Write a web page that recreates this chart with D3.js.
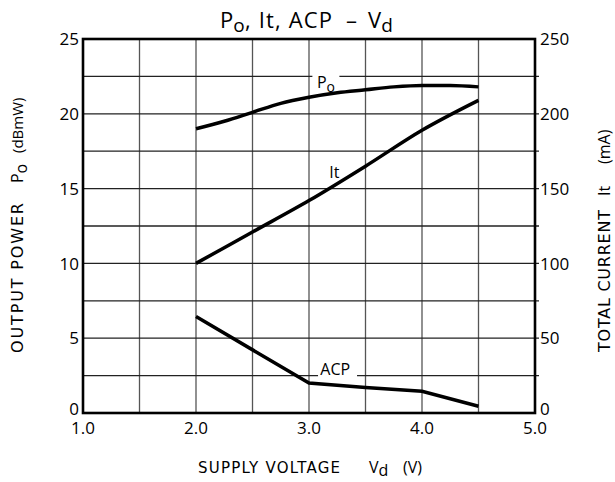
<!DOCTYPE html>
<html>
<head>
<meta charset="utf-8">
<script src="https://cdn.jsdelivr.net/npm/d3@7"></script>
<style>
  body { margin: 0; background: #fff; }
  text { font-family: "Open Sans", "Noto Sans", sans-serif; fill: #000; }
  .axt .caps { font-family: "DejaVu Sans", sans-serif; }
</style>
</head>
<body>
<div id="chart"></div>
<script>
// Data
const poVd = [2.0, 2.25, 2.5, 2.75, 3.0, 3.25, 3.5, 3.75, 4.0, 4.25, 4.5];
const po = [19.0, 19.5, 20.1, 20.7, 21.1, 21.4, 21.6, 21.8, 21.9, 21.9, 21.8];
const itVd = [2.0, 2.5, 3.0, 3.5, 4.0, 4.5];
const it = [100, 121, 142, 165, 189, 209];
const acpVd = [2.0, 3.0, 3.5, 4.0, 4.5];
const acp = [6.45, 2.0, 1.7, 1.45, 0.45];

const xTicks = [1, 2, 3, 4, 5];
const leftTicks = [0, 5, 10, 15, 20, 25];
const rightTicks = [0, 50, 100, 150, 200, 250];

const width = 615, height = 482;
const margin = { top: 39, right: 80, bottom: 69, left: 83 };

const svg = d3.select("#chart").append("svg")
  .attr("width", width)
  .attr("height", height);

const x = d3.scaleLinear().domain([1, 5]).range([margin.left, width - margin.right]);
const yL = d3.scaleLinear().domain([0, 25]).range([height - margin.bottom, margin.top]);
const yR = d3.scaleLinear().domain([0, 250]).range([height - margin.bottom, margin.top]);

const x0 = x.range()[0], x1 = x.range()[1];
const yb = yL.range()[0], yt = yL.range()[1];

// grid
svg.append("g")
  .selectAll("line")
  .data(d3.range(1.5, 5, 0.5))
  .join("line")
  .attr("x1", d => x(d)).attr("x2", d => x(d))
  .attr("y1", yt).attr("y2", yb)
  .attr("stroke", "#555").attr("stroke-width", 1.3);

svg.append("g")
  .selectAll("line")
  .data(d3.range(2.5, 25, 2.5))
  .join("line")
  .attr("x1", x0).attr("x2", x1 + 4)
  .attr("y1", d => yL(d)).attr("y2", d => yL(d))
  .attr("stroke", "#222").attr("stroke-width", 1.3);

// frame
svg.append("rect")
  .attr("x", x0).attr("y", yt)
  .attr("width", x1 - x0).attr("height", yb - yt)
  .attr("fill", "none").attr("stroke", "#000").attr("stroke-width", 2.6);

// tick labels (the zero labels sit a little above the corner, as in the original)
svg.append("g")
  .selectAll("text")
  .data(leftTicks)
  .join("text")
  .attr("x", x0 - 4).attr("y", d => yL(d) - (d === 0 ? 4 : 0))
  .attr("dy", "0.36em")
  .attr("text-anchor", "end")
  .attr("font-size", 17)
  .text(d => d);

svg.append("g")
  .selectAll("text")
  .data(rightTicks)
  .join("text")
  .attr("x", x1 + 5).attr("y", d => yR(d) - (d === 0 ? 4 : 0))
  .attr("dy", "0.36em")
  .attr("font-size", 17)
  .text(d => d);

svg.append("g")
  .selectAll("text")
  .data(xTicks)
  .join("text")
  .attr("x", d => x(d)).attr("y", yb + 21)
  .attr("text-anchor", "middle")
  .attr("font-size", 17)
  .text(d => d.toFixed(1));

// curves
const line = d3.line().x(d => x(d[0]));

svg.append("path")
  .attr("d", line.y(d => yL(d[1])).curve(d3.curveMonotoneX)(d3.zip(poVd, po)))
  .attr("fill", "none").attr("stroke", "#000").attr("stroke-width", 3.5);

svg.append("path")
  .attr("d", line.y(d => yR(d[1])).curve(d3.curveMonotoneX)(d3.zip(itVd, it)))
  .attr("fill", "none").attr("stroke", "#000").attr("stroke-width", 3.5);

svg.append("path")
  .attr("d", line.y(d => yL(d[1])).curve(d3.curveLinear)(d3.zip(acpVd, acp)))
  .attr("fill", "none").attr("stroke", "#000").attr("stroke-width", 3.5);

// curve labels
svg.append("rect")
  .attr("x", x(3.03)).attr("y", yL(22.5) - 3)
  .attr("width", 27).attr("height", 6).attr("fill", "#fff");
const poLab = svg.append("text")
  .attr("x", x(3.07)).attr("y", yL(21.72))
  .attr("font-size", 16);
poLab.append("tspan").text("P");
poLab.append("tspan").attr("font-size", 14).attr("dy", 4).text("o");

svg.append("text")
  .attr("x", x(3.18)).attr("y", yR(157))
  .attr("font-size", 16)
  .text("It");

svg.append("rect")
  .attr("x", x(3.08)).attr("y", yL(2.5) - 3)
  .attr("width", 39).attr("height", 6).attr("fill", "#fff");
svg.append("text")
  .attr("x", x(3.1)).attr("y", yL(2.55))
  .attr("font-size", 16)
  .text("ACP");

// title
const tg = svg.append("g").attr("font-size", 22);
const tp = tg.append("text").attr("x", 220).attr("y", 28);
tp.append("tspan").text("P");
tp.append("tspan").attr("font-size", 19).attr("dy", 4).text("o");
tg.append("text").attr("x", 245).attr("y", 28)
  .attr("textLength", 87).attr("lengthAdjust", "spacing")
  .text(", It, ACP");
tg.append("text").attr("x", 346).attr("y", 28).text("\u2013");
const tv = tg.append("text").attr("x", 368).attr("y", 28);
tv.append("tspan").text("V");
tv.append("tspan").attr("font-size", 19).attr("dy", 4).text("d");

// axis titles
const xt = svg.append("g").attr("class", "axt").attr("font-size", 15);
xt.append("text").attr("class", "caps").attr("x", 198).attr("y", 473)
  .attr("textLength", 142).attr("lengthAdjust", "spacing")
  .text("SUPPLY VOLTAGE");
const xv = xt.append("text").attr("x", 369).attr("y", 473).attr("font-size", 16);
xv.append("tspan").text("V");
xv.append("tspan").attr("dy", 3).text("d");
xt.append("text").attr("x", 403).attr("y", 473).attr("font-size", 16).text("(V)");

const lt = svg.append("g").attr("class", "axt")
  .attr("transform", "translate(23,0) rotate(-90)")
  .attr("font-size", 15);
lt.append("text").attr("class", "caps").attr("x", -353).attr("y", 0)
  .attr("font-size", 16)
  .attr("textLength", 150).attr("lengthAdjust", "spacing")
  .text("OUTPUT POWER");
const lp = lt.append("text").attr("x", -183).attr("y", 0).attr("font-size", 16);
lp.append("tspan").text("P");
lp.append("tspan").attr("dy", 4).text("o");
lt.append("text").attr("x", -153).attr("y", 0)
  .text("(dBmW)");

const rt = svg.append("g").attr("class", "axt")
  .attr("transform", "translate(610,0) rotate(-90)")
  .attr("font-size", 16);
rt.append("text").attr("class", "caps").attr("x", -352).attr("y", 0)
  .attr("textLength", 142).attr("lengthAdjust", "spacing")
  .text("TOTAL CURRENT");
rt.append("text").attr("x", -196).attr("y", 0).text("It");
rt.append("text").attr("x", -164).attr("y", 0)
  .text("(mA)");
</script>
</body>
</html>
